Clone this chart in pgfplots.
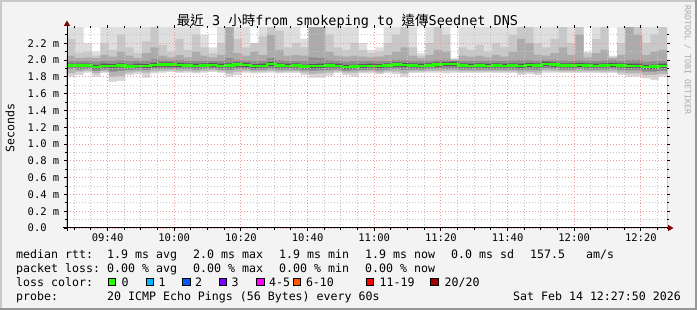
\documentclass[border=0pt]{standalone}
\usepackage{fontspec}
\setmainfont{DejaVu Sans Mono}
\newfontfamily\cjk{Noto Sans CJK TC}
\usepackage{pgfplots}
\pgfplotsset{compat=1.18}
\usepackage{pgfplotstable}
\definecolor{bg}{HTML}{F3F3F3}
\definecolor{shadeA}{HTML}{C8C8C8}
\definecolor{shadeB}{HTML}{969696}
\definecolor{mgrid}{HTML}{F29A9A}
\definecolor{gridc}{HTML}{C4C4C4}
\definecolor{arrowred}{HTML}{800000}
\definecolor{sA}{HTML}{DEDEDE}
\definecolor{sB}{HTML}{C8C8C8}
\definecolor{sC}{HTML}{ABABAB}
\definecolor{sD}{HTML}{8E8E8E}
\definecolor{sE}{HTML}{585858}
\definecolor{sF}{HTML}{8A8A8A}
\definecolor{sG}{HTML}{B4B4B4}
\definecolor{sH}{HTML}{D6D6D6}
\definecolor{l0}{HTML}{26FF00}
\definecolor{l1}{HTML}{00B8FF}
\definecolor{l2}{HTML}{0059FF}
\definecolor{l3}{HTML}{7E00FF}
\definecolor{l4}{HTML}{FF00FF}
\definecolor{l6}{HTML}{FF5500}
\definecolor{l11}{HTML}{FF0000}
\definecolor{l20}{HTML}{A10000}
\definecolor{wm}{HTML}{ABABAB}

\pgfplotstableread{
x top u2 u1 c m med b a lo2 lo
0 2.39 2.25 2.05 1.99 1.955 1.935 1.915 1.89 1.84 1.80
2.5 2.39 2.08 2.02 1.985 1.955 1.935 1.915 1.885 1.86 1.82
5 2.20 2.10 2.03 1.99 1.955 1.935 1.915 1.89 1.87 1.85
7.5 2.10 2.05 2.02 1.98 1.94 1.915 1.895 1.87 1.84 1.80
10 2.39 2.20 2.06 1.99 1.955 1.93 1.91 1.885 1.865 1.845
12.5 2.39 2.12 2.04 1.99 1.95 1.925 1.905 1.86 1.80 1.74
15 2.39 2.30 2.10 2.00 1.96 1.935 1.91 1.87 1.81 1.75
17.5 2.39 2.15 2.05 1.985 1.945 1.92 1.90 1.88 1.85 1.82
20 2.39 2.08 2.02 1.99 1.955 1.93 1.91 1.885 1.86 1.83
22.5 2.39 2.22 2.08 1.99 1.95 1.925 1.905 1.88 1.85 1.79
25 2.39 2.39 2.15 2.01 1.965 1.94 1.915 1.89 1.865 1.84
27.5 2.39 2.18 2.05 2.00 1.97 1.945 1.92 1.895 1.87 1.85
30 2.39 2.10 2.03 1.995 1.97 1.945 1.92 1.895 1.875 1.855
32.5 2.39 2.25 2.06 2.00 1.965 1.94 1.915 1.89 1.865 1.845
35 2.39 2.12 2.03 1.99 1.96 1.935 1.915 1.89 1.87 1.85
37.5 2.39 2.30 2.10 1.99 1.955 1.93 1.91 1.885 1.86 1.84
40 2.30 2.15 2.05 1.99 1.96 1.935 1.915 1.89 1.87 1.85
42.5 2.15 2.08 2.03 1.99 1.965 1.94 1.92 1.895 1.875 1.855
45 2.39 2.20 2.06 1.99 1.955 1.93 1.91 1.885 1.865 1.845
47.5 2.39 2.39 2.39 2.02 1.96 1.935 1.91 1.88 1.84 1.80
50 2.39 2.25 2.08 2.00 1.97 1.945 1.92 1.89 1.86 1.82
52.5 2.39 2.15 2.05 1.995 1.965 1.94 1.915 1.89 1.87 1.85
55 2.20 2.20 2.10 1.99 1.95 1.925 1.905 1.88 1.86 1.84
57.5 2.39 2.28 2.06 1.99 1.955 1.93 1.91 1.885 1.865 1.845
60 2.39 2.39 2.30 2.02 1.975 1.95 1.925 1.895 1.87 1.85
62.5 2.39 2.35 2.12 2.00 1.96 1.935 1.91 1.885 1.86 1.84
65 2.39 2.15 2.05 1.99 1.955 1.93 1.91 1.885 1.865 1.845
67.5 2.39 2.20 2.06 1.99 1.96 1.935 1.91 1.885 1.865 1.845
70 2.25 2.15 2.05 1.985 1.945 1.92 1.90 1.875 1.85 1.82
72.5 2.39 2.39 2.39 2.03 1.95 1.925 1.90 1.87 1.83 1.79
75 2.39 2.39 2.39 2.02 1.955 1.93 1.905 1.875 1.84 1.79
77.5 2.39 2.30 2.10 2.00 1.96 1.935 1.91 1.88 1.85 1.81
80 2.39 2.15 2.05 1.99 1.955 1.93 1.91 1.885 1.865 1.845
82.5 2.39 2.12 2.04 1.98 1.94 1.915 1.895 1.87 1.85 1.82
85 2.39 2.20 2.05 1.985 1.945 1.92 1.90 1.875 1.85 1.80
87.5 2.20 2.12 2.04 1.985 1.95 1.925 1.905 1.88 1.86 1.84
90 2.12 2.08 2.03 1.99 1.955 1.93 1.91 1.885 1.865 1.84
92.5 2.15 2.10 2.04 1.985 1.95 1.925 1.905 1.875 1.85 1.83
95 2.39 2.20 2.06 1.99 1.96 1.935 1.91 1.885 1.865 1.845
97.5 2.39 2.30 2.10 2.00 1.97 1.945 1.92 1.89 1.86 1.83
100 2.39 2.39 2.15 2.00 1.965 1.94 1.915 1.88 1.84 1.80
102.5 2.39 2.15 2.05 1.99 1.96 1.935 1.91 1.885 1.865 1.845
105 2.08 2.05 2.02 1.99 1.955 1.93 1.91 1.885 1.865 1.845
107.5 2.39 2.20 2.06 1.99 1.96 1.935 1.915 1.89 1.87 1.85
110 2.39 2.39 2.12 2.00 1.97 1.945 1.92 1.895 1.87 1.85
112.5 2.39 2.30 2.10 2.00 1.975 1.95 1.925 1.895 1.87 1.84
115 2.02 2.01 2.00 1.99 1.98 1.955 1.925 1.895 1.87 1.85
117.5 2.39 2.15 2.05 1.99 1.96 1.935 1.91 1.885 1.865 1.845
120 2.39 2.12 2.04 1.99 1.955 1.93 1.91 1.885 1.865 1.845
122.5 2.39 2.18 2.05 1.99 1.96 1.935 1.91 1.885 1.865 1.845
125 2.39 2.10 2.03 1.99 1.955 1.93 1.91 1.885 1.865 1.85
127.5 2.39 2.20 2.06 1.99 1.96 1.935 1.91 1.885 1.865 1.845
130 2.39 2.15 2.04 1.99 1.955 1.93 1.91 1.885 1.865 1.845
132.5 2.39 2.30 2.10 1.995 1.96 1.935 1.91 1.885 1.865 1.845
135 2.39 2.39 2.25 2.00 1.955 1.93 1.905 1.88 1.85 1.82
137.5 2.39 2.39 2.20 2.00 1.965 1.94 1.915 1.885 1.855 1.83
140 2.39 2.20 2.06 1.99 1.96 1.935 1.91 1.88 1.85 1.82
142.5 2.39 2.15 2.05 2.00 1.98 1.955 1.93 1.90 1.875 1.85
145 2.39 2.25 2.08 2.00 1.97 1.945 1.92 1.895 1.87 1.85
147.5 2.39 2.39 2.15 1.995 1.96 1.935 1.91 1.885 1.865 1.845
150 2.39 2.20 2.06 1.99 1.96 1.935 1.91 1.885 1.865 1.845
152.5 2.39 2.39 2.30 2.00 1.965 1.94 1.915 1.89 1.865 1.845
155 2.10 2.08 2.03 1.99 1.96 1.935 1.91 1.885 1.865 1.845
157.5 2.39 2.25 2.08 1.99 1.955 1.93 1.91 1.885 1.865 1.845
160 2.39 2.39 2.12 1.995 1.96 1.935 1.91 1.885 1.86 1.84
162.5 2.05 2.04 2.02 2.00 1.965 1.94 1.915 1.89 1.865 1.845
165 2.39 2.20 2.06 1.99 1.96 1.935 1.91 1.88 1.85 1.82
167.5 2.39 2.39 2.39 2.00 1.955 1.93 1.905 1.875 1.84 1.80
170 2.39 2.39 2.30 2.00 1.955 1.93 1.905 1.875 1.84 1.80
172.5 2.39 2.20 2.06 1.98 1.94 1.915 1.895 1.86 1.82 1.78
175 2.39 2.30 2.10 1.985 1.945 1.92 1.895 1.86 1.82 1.76
177.5 2.39 2.39 2.12 1.99 1.955 1.93 1.905 1.87 1.83 1.80
180 2.39 2.39 2.12 1.99 1.955 1.93 1.905 1.87 1.83 1.80
}\smoke

\newcommand\lt[3]{\node[anchor=base west, inner sep=0pt, font=\fontsize{11.6}{14}\selectfont] at (#1,#2) {#3};}
\newcommand\lbox[2]{\filldraw[fill=#2, draw=black, line width=0.8pt] (#1,24.6) rectangle ($(#1,31.6)+(7.2,0)$);}

\usetikzlibrary{calc}

\begin{document}
\begin{tikzpicture}[x=1pt,y=1pt]
\useasboundingbox (0,0) rectangle (697,310);
\fill[bg] (0,0) rectangle (697,310);
\fill[shadeA] (0,0) rectangle (2,310);
\fill[shadeA] (0,308) rectangle (697,310);
\fill[shadeB] (695,0) rectangle (697,310);
\fill[shadeB] (0,0) rectangle (697,2);

\begin{axis}[
  at={(67pt,82pt)}, anchor=south west,
  scale only axis, width=600pt, height=200pt,
  xmin=0, xmax=180, ymin=0, ymax=2.38,
  axis background/.style={fill=white},
  axis on top,
  axis line style={draw=none},
  xtick={12.1667,32.1667,52.1667,72.1667,92.1667,112.1667,132.1667,152.1667,172.1667},
  xticklabels={09:40,10:00,10:20,10:40,11:00,11:20,11:40,12:00,12:20},
  minor xtick={2.1667,7.1667,17.1667,22.1667,27.1667,37.1667,42.1667,47.1667,57.1667,62.1667,67.1667,77.1667,82.1667,87.1667,97.1667,102.1667,107.1667,117.1667,122.1667,127.1667,137.1667,142.1667,147.1667,157.1667,162.1667,167.1667,177.1667},
  ytick={0,0.2,0.4,0.6,0.8,1.0,1.2,1.4,1.6,1.8,2.0,2.2},
  yticklabels={0.0\hphantom{ m},0.2 m,0.4 m,0.6 m,0.8 m,1.0 m,1.2 m,1.4 m,1.6 m,1.8 m,2.0 m,2.2 m},
  minor ytick={0.1,0.3,0.5,0.7,0.9,1.1,1.3,1.5,1.7,1.9,2.1,2.3},
  grid=both,
  major grid style={draw=mgrid, dash pattern=on 1pt off 2pt, line width=0.8pt},
  minor grid style={draw=gridc, dash pattern=on 1pt off 2pt, line width=0.8pt},
  tick align=outside,
  major tick length=3pt, minor tick length=2pt,
  tick style={black, line width=0.8pt},
  ticklabel style={font=\fontsize{10.5}{12}\selectfont, inner sep=0pt},
  xticklabel style={anchor=north},
  yticklabel style={anchor=east},
  xticklabel shift=2.5pt,
  yticklabel shift=4.5pt,
]
\addplot[const plot mark left, fill=sA, draw=none] table[x=x,y=top]{\smoke} \closedcycle;
\addplot[const plot mark left, fill=sB, draw=none] table[x=x,y=u2]{\smoke} \closedcycle;
\addplot[const plot mark left, fill=sC, draw=none] table[x=x,y=u1]{\smoke} \closedcycle;
\addplot[const plot mark left, fill=sD, draw=none] table[x=x,y=c]{\smoke} \closedcycle;
\addplot[const plot mark left, fill=sE, draw=none] table[x=x,y=m]{\smoke} \closedcycle;
\addplot[const plot mark left, fill=sF, draw=none] table[x=x,y=b]{\smoke} \closedcycle;
\addplot[const plot mark left, fill=sG, draw=none] table[x=x,y=a]{\smoke} \closedcycle;
\addplot[const plot mark left, fill=sH, draw=none] table[x=x,y=lo2]{\smoke} \closedcycle;
\addplot[const plot mark left, fill=white, draw=none] table[x=x,y=lo]{\smoke} \closedcycle;
\addplot[const plot mark left, draw=l0, line width=2.4pt] table[x=x,y=med]{\smoke};
\end{axis}

% axes lines and arrows
\draw[line width=1pt] (67,79) -- (67,284.5);
\fill[arrowred] (63.8,284) -- (70.2,284) -- (67,289.5) -- cycle;
\draw[line width=1pt] (63,82) -- (668.5,82);
\fill[arrowred] (668,78.8) -- (668,85.2) -- (673.5,82) -- cycle;

% title
\node[anchor=base, inner sep=0pt, font=\fontsize{13.5}{16}\selectfont] at (347.5,284)
  {{\cjk 最近} 3 {\cjk 小時}from smokeping to {\cjk 遠傳}Seednet DNS};

% y label
\node[rotate=90, inner sep=0pt, font=\fontsize{11.6}{14}\selectfont] at (10,182) {Seconds};

% watermark
\node[rotate=-90, inner sep=0pt, text=wm, font=\fontsize{8.3}{10}\selectfont] at (687.5,250) {RRDTOOL / TOBI OETIKER};

% legend row 1
\lt{16}{51.5}{median rtt:}
\lt{107}{51.5}{1.9 ms avg}
\lt{193}{51.5}{2.0 ms max}
\lt{279}{51.5}{1.9 ms min}
\lt{365}{51.5}{1.9 ms now}
\lt{451}{51.5}{0.0 ms sd}
\lt{530}{51.5}{157.5}
\lt{586}{51.5}{am/s}
% row 2
\lt{16}{37.5}{packet loss:}
\lt{107}{37.5}{0.00 \% avg}
\lt{193}{37.5}{0.00 \% max}
\lt{279}{37.5}{0.00 \% min}
\lt{365}{37.5}{0.00 \% now}
% row 3
\lt{16}{23.5}{loss color:}
\lbox{108.4}{l0} \lt{121.5}{23.5}{0}
\lbox{146}{l1} \lt{158.5}{23.5}{1}
\lbox{182.8}{l2} \lt{195}{23.5}{2}
\lbox{219.4}{l3} \lt{231.5}{23.5}{3}
\lbox{256.8}{l4} \lt{269}{23.5}{4-5}
\lbox{293.4}{l6} \lt{305.8}{23.5}{6-10}
\lbox{366}{l11} \lt{379.5}{23.5}{11-19}
\lbox{430.8}{l20} \lt{444.5}{23.5}{20/20}
% row 4
\lt{16}{9.5}{probe:}
\lt{107}{9.5}{20 ICMP Echo Pings (56 Bytes) every 60s}
\node[anchor=base east, inner sep=0pt, font=\fontsize{11.6}{14}\selectfont] at (681,9.5) {Sat Feb 14 12:27:50 2026};
\end{tikzpicture}
\end{document}
